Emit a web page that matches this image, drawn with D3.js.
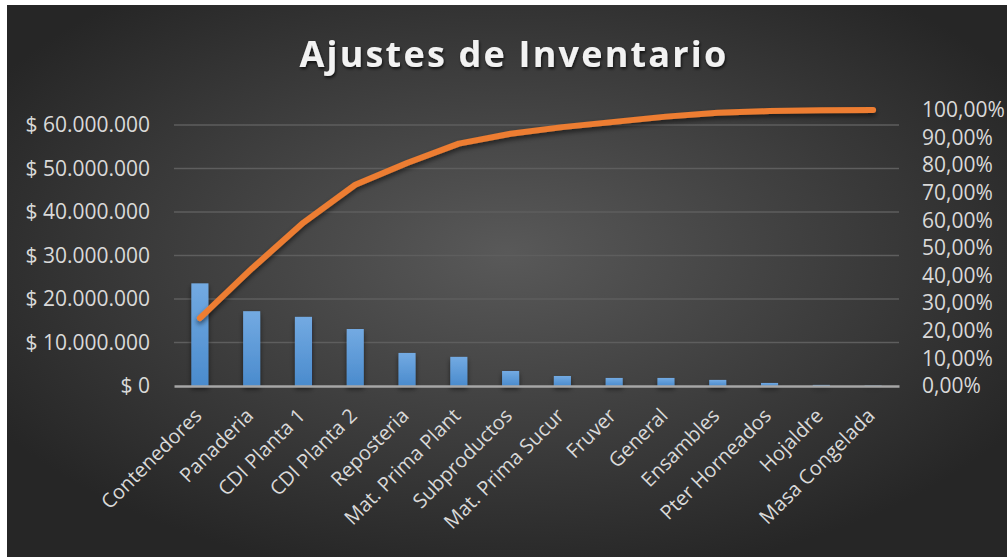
<!DOCTYPE html>
<html>
<head>
<meta charset="utf-8">
<script src="https://cdn.jsdelivr.net/npm/d3@7"></script>
<style>
  html, body { margin: 0; padding: 0; background: #ffffff; }
  svg { display: block; }
  text { font-family: "Open Sans", "Noto Sans", sans-serif; }
</style>
</head>
<body>
<svg id="chart" width="1008" height="557"></svg>
<script>
// Inventory adjustments by area (Pareto view)
const categories = ["Contenedores", "Panaderia", "CDI Planta 1", "CDI Planta 2", "Reposteria",
  "Mat. Prima Plant", "Subproductos", "Mat. Prima Sucur", "Fruver", "General",
  "Ensambles", "Pter Horneados", "Hojaldre", "Masa Congelada"];
const amounts = [23600000, 17200000, 15900000, 13100000, 7600000, 6700000, 3450000,
  2300000, 1850000, 1850000, 1400000, 700000, 250000, 100000];
const cumulativePct = [0.246, 0.425, 0.592, 0.729, 0.808, 0.878, 0.914, 0.938,
  0.957, 0.976, 0.990, 0.996, 0.999, 1.0];
const amountTicks = [0, 10000000, 20000000, 30000000, 40000000, 50000000, 60000000];
const pctTicks = [0, 0.1, 0.2, 0.3, 0.4, 0.5, 0.6, 0.7, 0.8, 0.9, 1.0];
const title = "Ajustes de Inventario";

const svg = d3.select("#chart");
const W = 1008, H = 557;
const plot = { left: 174, right: 899, top: 110, bottom: 386 };

const defs = svg.append("defs");

// Chart background: dark radial gradient
const bg = defs.append("radialGradient").attr("id", "bgGrad")
  .attr("cx", "50%").attr("cy", "45%").attr("r", "60%");
bg.append("stop").attr("offset", "0%").attr("stop-color", "#595959");
bg.append("stop").attr("offset", "100%").attr("stop-color", "#262626");

const barGrad = defs.append("linearGradient").attr("id", "barGrad")
  .attr("x1", 0).attr("y1", 0).attr("x2", 0).attr("y2", 1);
barGrad.append("stop").attr("offset", "0%").attr("stop-color", "#73aae2");
barGrad.append("stop").attr("offset", "100%").attr("stop-color", "#4a8bcd");

const shadow = defs.append("filter").attr("id", "shadow")
  .attr("x", "-20%").attr("y", "-20%").attr("width", "140%").attr("height", "160%");
shadow.append("feDropShadow").attr("dx", 0).attr("dy", 3).attr("stdDeviation", 2.5)
  .attr("flood-color", "#000").attr("flood-opacity", 0.55);

const titleShadow = defs.append("filter").attr("id", "titleShadow")
  .attr("x", "-10%").attr("y", "-30%").attr("width", "120%").attr("height", "170%");
titleShadow.append("feDropShadow").attr("dx", 1).attr("dy", 2).attr("stdDeviation", 1.5)
  .attr("flood-color", "#000").attr("flood-opacity", 0.7);

svg.append("rect").attr("x", 7).attr("y", 5).attr("width", W - 8).attr("height", H - 5)
  .attr("fill", "url(#bgGrad)");

// Scales
const x = d3.scaleBand().domain(categories).range([plot.left, plot.right]).paddingInner(0).paddingOuter(0);
const yAmt = d3.scaleLinear().domain([0, 63450000]).range([plot.bottom, plot.top]);
const yPct = d3.scaleLinear().domain([0, 1]).range([plot.bottom, plot.top]);

// Gridlines
svg.append("g").selectAll("line").data(amountTicks.slice(1)).join("line")
  .attr("x1", plot.left).attr("x2", plot.right)
  .attr("y1", d => yAmt(d)).attr("y2", d => yAmt(d))
  .attr("stroke", "#5e5e5e").attr("stroke-width", 1.5);

// Left axis
const fmtAmt = d => "$ " + d3.format(",.0f")(d).replace(/,/g, ".");
const leftAxis = svg.append("g").attr("transform", `translate(${plot.left},0)`)
  .call(d3.axisLeft(yAmt).tickValues(amountTicks).tickFormat(fmtAmt).tickSize(0).tickPadding(24));
leftAxis.select(".domain").remove();
leftAxis.selectAll("text").attr("fill", "#d9d9d9").style("font-size", "21px")
  .style("font-family", "'Open Sans', sans-serif");

// Right axis
const fmtPct = d => d3.format(".2f")(d * 100).replace(".", ",") + "%";
const rightAxis = svg.append("g").attr("transform", `translate(${plot.right},0)`)
  .call(d3.axisRight(yPct).tickValues(pctTicks).tickFormat(fmtPct).tickSize(0).tickPadding(23));
rightAxis.select(".domain").remove();
rightAxis.selectAll("text").attr("fill", "#d9d9d9").style("font-size", "21px")
  .style("font-family", "'Open Sans', sans-serif");

// Bars
const barW = x.bandwidth() * 0.33;
svg.append("g").attr("filter", "url(#shadow)").selectAll("rect").data(categories).join("rect")
  .attr("x", d => x(d) + x.bandwidth() / 2 - barW / 2)
  .attr("width", barW)
  .attr("y", (d, i) => yAmt(amounts[i]))
  .attr("height", (d, i) => yAmt(0) - yAmt(amounts[i]))
  .attr("fill", "url(#barGrad)");

// Category axis
const bottomAxis = svg.append("g").attr("transform", `translate(0,${plot.bottom})`)
  .call(d3.axisBottom(x).tickSize(0).tickPadding(0));
bottomAxis.select(".domain").attr("stroke", "#a6a6a6").attr("stroke-width", 2.5);
bottomAxis.selectAll("text")
  .attr("fill", "#d9d9d9").style("font-size", "20px")
  .style("font-family", "'Open Sans', sans-serif")
  .attr("text-anchor", "end")
  .attr("dy", 0)
  .attr("transform", "translate(3,31) rotate(-45)");

// Cumulative percentage line
const line = d3.line()
  .x((d, i) => x(categories[i]) + x.bandwidth() / 2)
  .y(d => yPct(d));
svg.append("path").datum(cumulativePct)
  .attr("d", line)
  .attr("fill", "none")
  .attr("stroke", "#ed7d31")
  .attr("stroke-width", 6)
  .attr("stroke-linecap", "round")
  .attr("stroke-linejoin", "round")
  .attr("filter", "url(#shadow)");

// Title
svg.append("text").attr("x", 514).attr("y", 67)
  .attr("text-anchor", "middle")
  .attr("fill", "#f2f2f2")
  .style("font-size", "36px").style("font-weight", "700")
  .style("letter-spacing", "2.2px")
  .attr("filter", "url(#titleShadow)")
  .text(title);
</script>
</body>
</html>
